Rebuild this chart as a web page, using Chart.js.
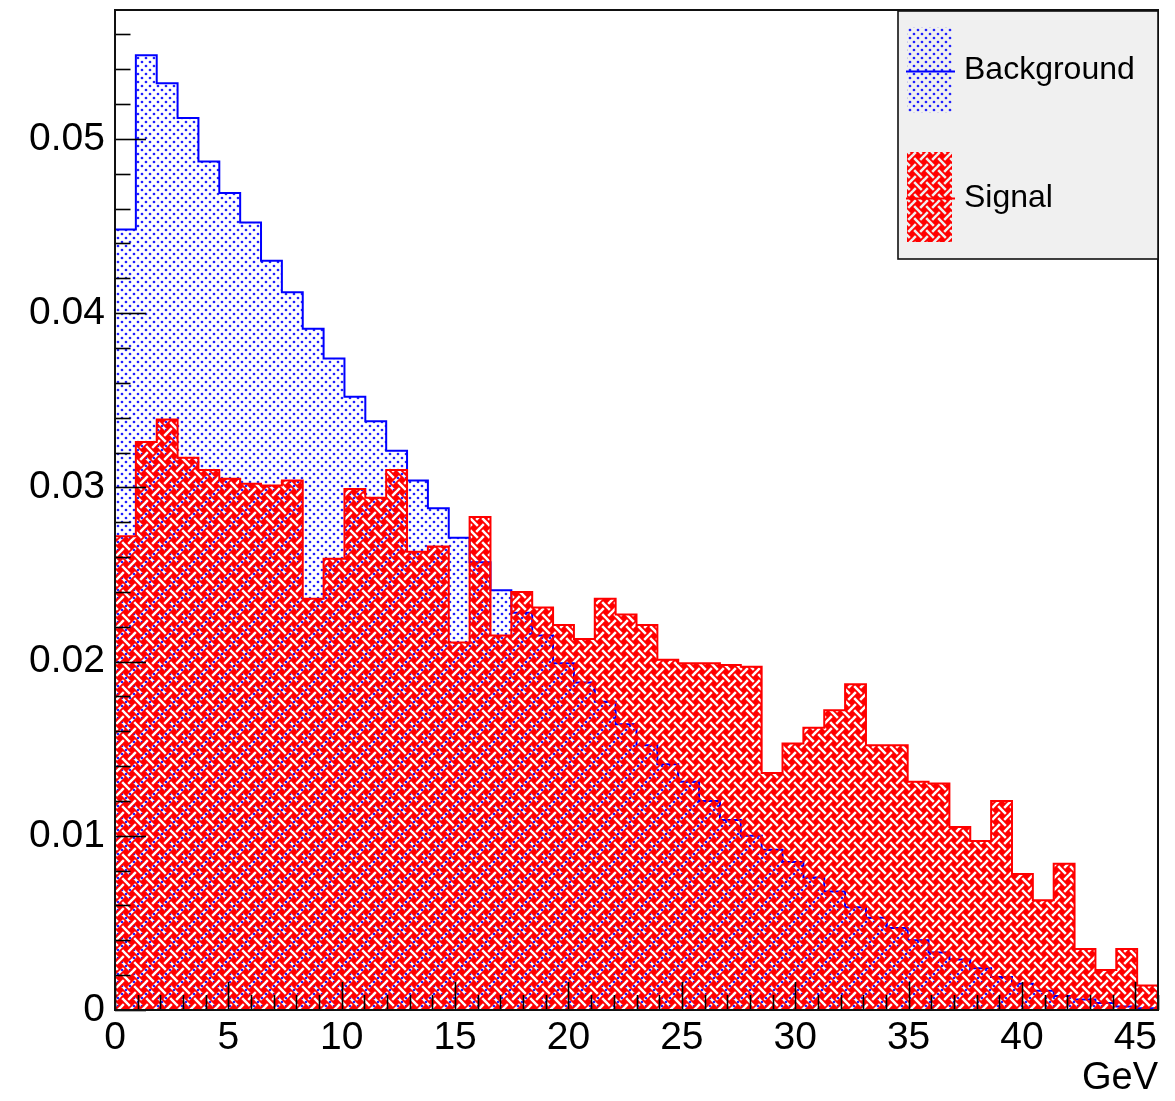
<!DOCTYPE html>
<html>
<head>
<meta charset="utf-8">
<script src="https://cdn.jsdelivr.net/npm/chart.js@4.4.1/dist/chart.umd.min.js"></script>
<style>
  html, body { margin: 0; padding: 0; background: #ffffff; }
  canvas { display: block; }
</style>
</head>
<body>
<canvas id="c" width="1175" height="1101"></canvas>
<script>
// ---- data ----
const binWidth = 0.92;   // 50 bins from 0 to 46 GeV
const xMin = 0, xMax = 46;
const yMax = 0.0574;
const xTickValues = [0, 5, 10, 15, 20, 25, 30, 35, 40, 45];
const yTickValues = [0, 0.01, 0.02, 0.03, 0.04, 0.05];
const seriesNames = ['Background', 'Signal'];
const xTitle = 'GeV';

const background = [
  0.0448, 0.0548, 0.0532, 0.0512, 0.0487, 0.0469, 0.0452, 0.0430, 0.0412, 0.0391,
  0.0374, 0.0352, 0.0338, 0.0321, 0.0304, 0.0288, 0.0271, 0.0257, 0.0241, 0.0228,
  0.0215, 0.0199, 0.0188, 0.0177, 0.0164, 0.0152, 0.0141, 0.0131, 0.0120, 0.0109,
  0.0100, 0.0092, 0.0085, 0.0076, 0.0068, 0.0059, 0.0053, 0.0047, 0.0040, 0.0033,
  0.0029, 0.0024, 0.0019, 0.0015, 0.0011, 0.0008, 0.0006, 0.0004, 0.0002, 0.0001
];
const signal = [
  0.0272, 0.0326, 0.0339, 0.0317, 0.0310, 0.0305, 0.0302, 0.0301, 0.0304, 0.0236,
  0.0259, 0.0299, 0.0294, 0.0310, 0.0263, 0.0266, 0.0211, 0.0283, 0.0215, 0.0240,
  0.0231, 0.0221, 0.0213, 0.0236, 0.0227, 0.0221, 0.0201, 0.0199, 0.0199, 0.0198,
  0.0197, 0.0136, 0.0153, 0.0162, 0.0172, 0.0187, 0.0152, 0.0152, 0.0131, 0.0130,
  0.0105, 0.0097, 0.0120, 0.0078, 0.0063, 0.0084, 0.0035, 0.0023, 0.0035, 0.0014
];

// ---- helpers ----
const FONT = '"Liberation Sans", Arial, Helvetica, sans-serif';

function histPoints(values) {
  const pts = [{ x: 0, y: 0 }];
  values.forEach((v, i) => pts.push({ x: i * binWidth, y: v }));
  const end = values.length * binWidth;
  pts.push({ x: end, y: values[values.length - 1] });
  pts.push({ x: end, y: 0 });
  return pts;
}

const canvas = document.getElementById('c');
const ctx = canvas.getContext('2d');

function dotPattern() {
  const c = document.createElement('canvas');
  c.width = 8; c.height = 8;
  const g = c.getContext('2d');
  g.fillStyle = 'rgba(20,20,255,0.95)';
  [[2, 2], [6, 6]].forEach(([x, y]) => {
    g.beginPath(); g.arc(x, y, 1.35, 0, Math.PI * 2); g.fill();
  });
  return ctx.createPattern(c, 'repeat');
}

function weavePattern() {
  const s = 12;
  const c = document.createElement('canvas');
  c.width = s; c.height = s;
  const g = c.getContext('2d');
  g.fillStyle = '#ff0000';
  g.fillRect(0, 0, s, s);
  g.globalCompositeOperation = 'destination-out';
  g.lineWidth = 2.5;
  g.lineCap = 'butt';
  const gap = 2.2;
  const seg = (x1, y1, x2, y2) => { g.beginPath(); g.moveTo(x1, y1); g.lineTo(x2, y2); g.stroke(); };
  seg(gap, gap, s - gap, s - gap);
  seg(s + 3, -3, s / 2 + gap, s / 2 - gap);
  seg(s / 2 - gap, s / 2 + gap, -3, s + 3);
  seg(-3, 3, 3, -3);
  seg(s - 3, s + 3, s + 3, s - 3);
  return ctx.createPattern(c, 'repeat');
}

const bgPattern = dotPattern();
const sigPattern = weavePattern();

const rootPlugin = {
  id: 'rootStyle',
  afterDatasetsDraw(chart) {
    const g = chart.ctx;
    const a = chart.chartArea;
    const xs = chart.scales.x, ys = chart.scales.y;
    g.save();
    g.strokeStyle = '#000';
    g.lineWidth = 1.6;
    for (let k = 0; k * 0.002 <= yMax + 1e-9; k++) {
      const v = k * 0.002;
      const y = Math.round(ys.getPixelForValue(v)) + 0.5;
      const len = (k % 5 === 0) ? 31 : 15.5;
      g.beginPath(); g.moveTo(a.left, y); g.lineTo(a.left + len, y); g.stroke();
    }
    for (let v = 0; v <= xMax + 1e-9; v += 1) {
      const x = Math.round(xs.getPixelForValue(v)) + 0.5;
      const len = (v % 5 === 0) ? 28 : 15;
      g.beginPath(); g.moveTo(x, a.bottom); g.lineTo(x, a.bottom - len); g.stroke();
    }
    g.lineWidth = 2;
    g.strokeStyle = '#111';
    g.strokeRect(a.left, a.top, a.right - a.left, a.bottom - a.top);

    const lx = 898, ly = a.top + 1, lw = a.right - 898, lh = 248;
    g.fillStyle = '#f0f0f0';
    g.fillRect(lx, ly, lw, lh);
    g.lineWidth = 1.6;
    g.strokeStyle = '#111';
    g.strokeRect(lx, ly, lw, lh);

    g.fillStyle = bgPattern;
    g.fillRect(907, 27, 45, 86);
    g.strokeStyle = '#0000ff';
    g.lineWidth = 2;
    g.beginPath(); g.moveTo(906, 71.5); g.lineTo(955, 71.5); g.stroke();

    g.fillStyle = sigPattern;
    g.fillRect(907, 152, 45, 90);
    g.strokeStyle = '#ff0000';
    g.beginPath(); g.moveTo(906, 198.5); g.lineTo(955, 198.5); g.stroke();

    g.fillStyle = '#000';
    g.font = '32px ' + FONT;
    g.textAlign = 'left';
    g.textBaseline = 'middle';
    g.fillText(seriesNames[0], 964, 70);
    g.fillText(seriesNames[1], 964, 198);
    g.restore();
  }
};

new Chart(ctx, {
  type: 'line',
  data: {
    datasets: [
      {
        label: seriesNames[0],
        data: histPoints(background),
        borderColor: '#0000ff',
        borderWidth: 2,
        backgroundColor: bgPattern,
        fill: 'origin',
        stepped: 'before',
        pointRadius: 0,
        order: 1
      },
      {
        label: seriesNames[1],
        data: histPoints(signal),
        borderColor: '#ff0000',
        borderWidth: 2,
        backgroundColor: sigPattern,
        fill: 'origin',
        stepped: 'before',
        pointRadius: 0,
        order: 0
      }
    ]
  },
  options: {
    responsive: false,
    animation: false,
    devicePixelRatio: 1,
    layout: { padding: { top: 10, right: 17, left: 0, bottom: 0 } },
    plugins: { legend: { display: false }, tooltip: { enabled: false } },
    scales: {
      x: {
        type: 'linear',
        min: xMin, max: xMax,
        afterBuildTicks: s => { s.ticks = xTickValues.map(v => ({ value: v })); },
        ticks: {
          font: { size: 39, family: FONT }, color: '#000', padding: 5,
          maxRotation: 0, autoSkip: false,
          callback: v => String(v)
        },
        grid: { display: false, drawTicks: false },
        border: { display: false },
        title: {
          display: true, text: xTitle, align: 'end', color: '#000',
          font: { size: 38, family: FONT }, padding: { top: 0, bottom: 0 }
        },
        afterFit: s => { s.height = 91; s.paddingLeft = 0; s.paddingRight = 0; }
      },
      y: {
        type: 'linear',
        min: 0, max: yMax,
        afterBuildTicks: s => { s.ticks = yTickValues.map(v => ({ value: v })); },
        ticks: {
          font: { size: 39, family: FONT }, color: '#000', padding: 10,
          callback: v => (v === 0 ? '0' : v.toFixed(2))
        },
        grid: { display: false, drawTicks: false },
        border: { display: false },
        afterFit: s => { s.width = 115; s.paddingTop = 0; s.paddingBottom = 0; }
      }
    }
  },
  plugins: [rootPlugin]
});
</script>
</body>
</html>
